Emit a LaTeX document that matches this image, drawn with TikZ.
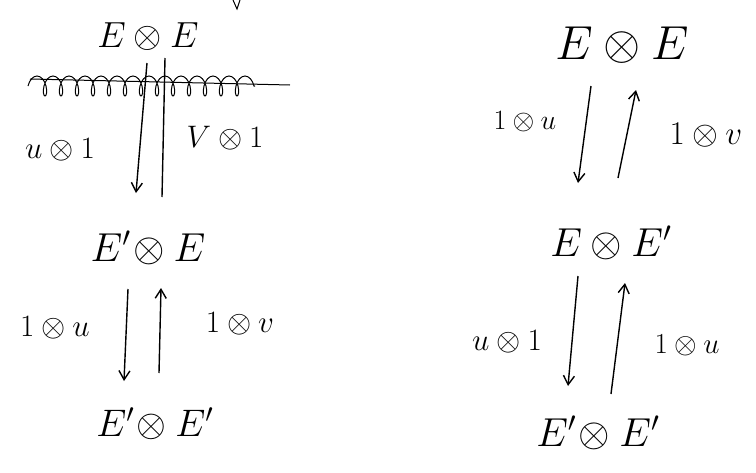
\documentclass[tikz,border=0pt]{standalone}
\usepackage{graphicx}
\usetikzlibrary{arrows.meta,calc,decorations.pathmorphing}
\newcommand\hw[2]{\scalebox{#1}{\fontsize{20}{24}\selectfont$#2$}}
\begin{document}
\begin{tikzpicture}[x=1pt,y=-1pt,
  obj/.style={inner sep=0pt},
  lab/.style={inner sep=0pt},
  arr/.style={line width=1.4pt,-{Straight Barb[length=9pt,width=11pt,line width=1.4pt]}},
  bare/.style={line width=1.4pt},
  pen/.style={line width=1pt}]
\useasboundingbox (0,0) rectangle (756,472);
% left column
\node[obj] (a) at (148,37) {\hw{1.75}{E\otimes E}};
\node[obj] (b) at (148,248) {\hw{1.95}{E'\!\otimes E}};
\node[obj] (c) at (155,424) {\hw{1.85}{E'\!\otimes E'}};
\node[lab] (l1) at (60,150) {\hw{1.5}{u\otimes 1}};
\node[lab] (l2) at (225,138) {\hw{1.5}{V\otimes 1}};
\node[lab] (l3) at (55,328) {\hw{1.5}{1\otimes u}};
\node[lab] (l4) at (240,324) {\hw{1.5}{1\otimes v}};
\draw[arr] ($(a)+(-1,26)$) -- ($(b)+(-12,-55)$);
\draw[bare] ($(b)+(14,-51)$) -- ($(a)+(17,21)$);
\draw[arr] ($(b)+(-20,41)$) -- ($(c)+(-31,-43)$);
\draw[arr] ($(c)+(4,-51)$) -- ($(b)+(13,40)$);
% crossed-out scribble
\coordinate (s1) at (28,86);
\coordinate (s2) at (255,86);
\coordinate (s3) at (30,79);
\coordinate (s4) at (290,85);
\draw[pen,decorate,decoration={coil,amplitude=10pt,segment length=16pt}] (s1) -- (s2);
\draw[pen] (s3) -- (s4);
% top fragment
\coordinate (t1) at (233,0);
\coordinate (t2) at (237,9);
\coordinate (t3) at (240,0);
\draw[pen] (t1) -- (t2) -- (t3);
% right column
\node[obj] (d) at (622,45) {\hw{2.3}{E\otimes E}};
\node[obj] (e) at (611,243) {\hw{1.95}{E\otimes E'}};
\node[obj] (f) at (598,433) {\hw{1.95}{E'\!\otimes E'}};
\node[lab] (r1) at (525,122) {\hw{1.35}{1\otimes u}};
\node[lab] (r2) at (706,135) {\hw{1.6}{1\otimes v}};
\node[lab] (r3) at (507,342) {\hw{1.5}{u\otimes 1}};
\node[lab] (r4) at (687,345) {\hw{1.4}{1\otimes u}};
\draw[arr] ($(d)+(-31,41)$) -- ($(e)+(-33,-60)$);
\draw[arr] ($(e)+(7,-65)$) -- ($(d)+(14,45)$);
\draw[arr] ($(e)+(-33,33)$) -- ($(f)+(-30,-47)$);
\draw[arr] ($(f)+(13,-39)$) -- ($(e)+(14,40)$);
\end{tikzpicture}
\end{document}
